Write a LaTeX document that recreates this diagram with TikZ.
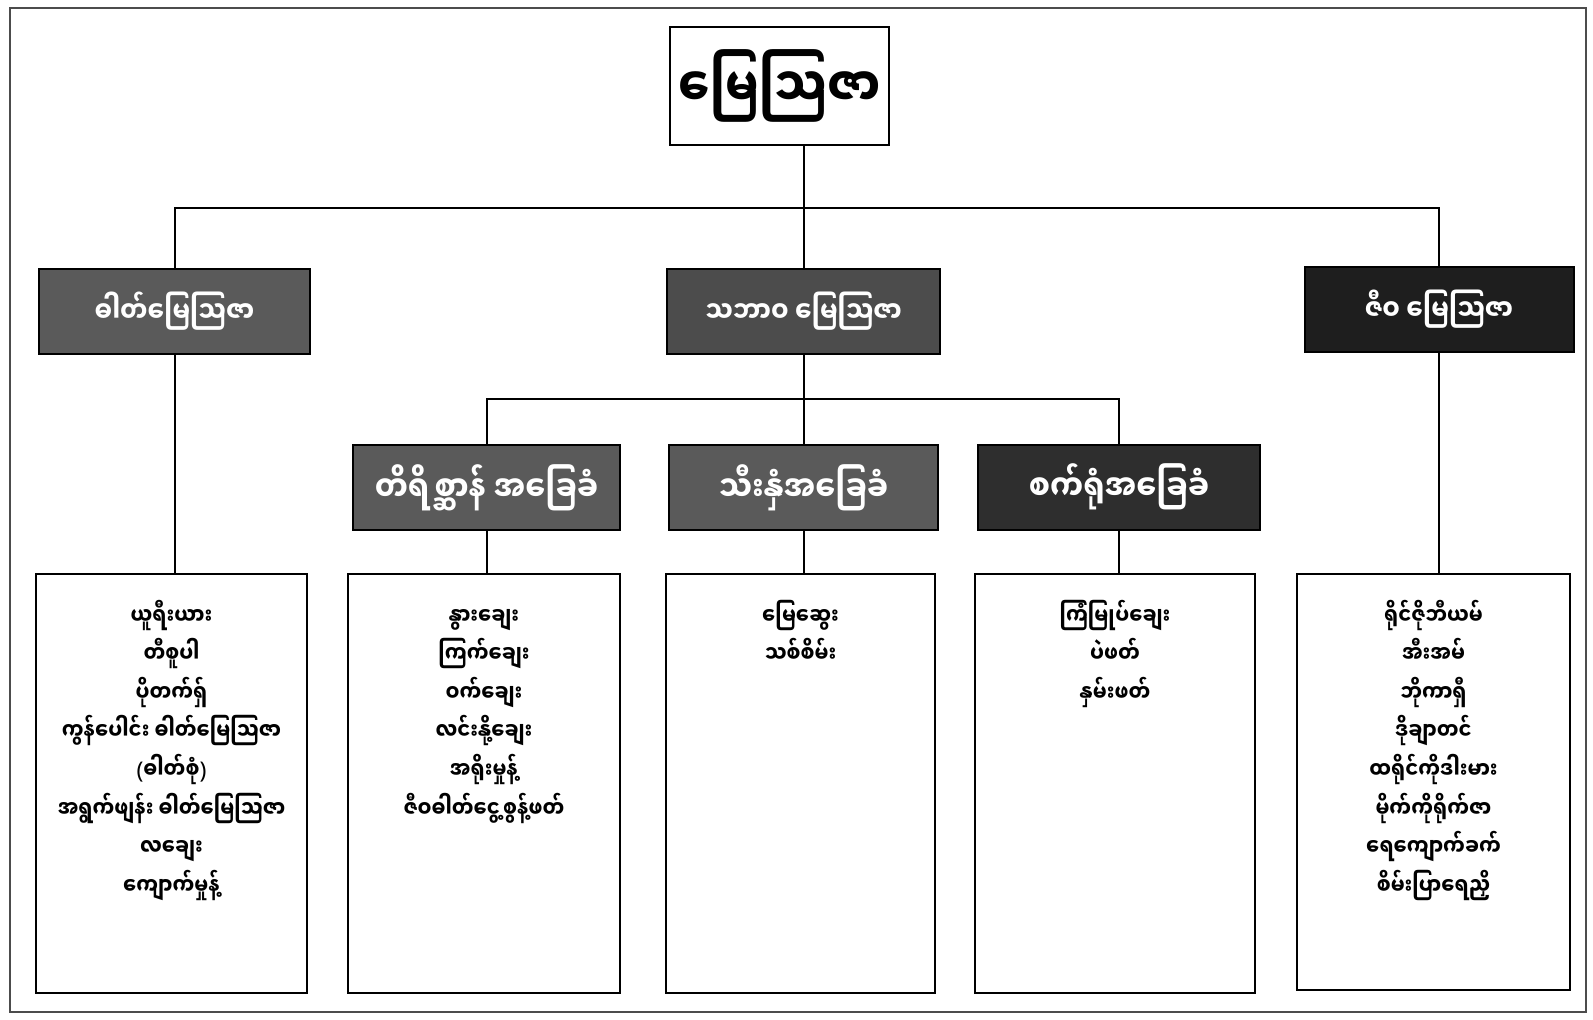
\documentclass[tikz,border=0pt]{standalone}
\usepackage{fontspec}
\newfontfamily\mm[Script=Myanmar,FakeStretch=0.85]{Noto Sans Myanmar UI}
\newfontfamily\lat{Noto Sans}
\usetikzlibrary{positioning}
\definecolor{headA}{HTML}{5A5A5A}
\definecolor{headB}{HTML}{4C4C4C}
\definecolor{headC}{HTML}{1E1E1E}
\definecolor{subC}{HTML}{2E2E2E}
\newcommand{\firstline}{\rule{0pt}{28pt}}

\begin{document}
\begin{tikzpicture}[x=1pt,y=-1pt,line width=2pt,
    head/.style={draw,fill=#1,text=white,minimum height=85pt,inner sep=0pt,
      font=\mm\bfseries\fontsize{29}{32}\selectfont},
    subhead/.style={head=#1,font=\mm\bfseries\fontsize{35}{38}\selectfont},
    listbox/.style={draw,fill=white,minimum height=419pt,inner sep=0pt},
    listtext/.style={anchor=north,align=center,inner sep=0pt,
      font=\mm\bfseries\fontsize{23}{38.6}\selectfont}]
  \useasboundingbox (0,0) rectangle (1593,1020);
  \draw[line width=1.2pt,black!70] (10,8) rectangle (1586,1012);
  % top
  \node (title) [draw,minimum width=219pt,minimum height=118pt,inner sep=0pt,
    font=\mm\bfseries\fontsize{55}{60}\selectfont] at (779.5,86) {မြေသြဇာ};
  \node (hdA) [head=headA,minimum width=271pt] at (174.5,311.5) {ဓါတ်မြေသြဇာ};
  \node (hdB) [head=headB,minimum width=273pt] at (803.5,311.5) {သဘာဝ မြေသြဇာ};
  \node (hdC) [head=headC,minimum width=269pt] at (1439,309) {ဇီဝ မြေသြဇာ};
  \coordinate (bar) at (803.5,208);
  % second level
  \node (sbA) [subhead=headA,minimum width=267pt] at (486.5,487.5) {တိရိစ္ဆာန် အခြေခံ};
  \node (sbB) [subhead=headA,minimum width=269pt] at (803.5,487.5) {သီးနှံအခြေခံ};
  \node (sbC) [subhead=subC,minimum width=282pt] at (1119,487) {စက်ရုံအခြေခံ};
  \coordinate (subbar) at (803.5,399);
  % lists
  \node (bxA) [listbox,minimum width=271pt] at (171.5,783.5) {};
  \node (bxB) [listbox,minimum width=272pt] at (484,783.5) {};
  \node (bxC) [listbox,minimum width=269pt] at (800.5,783.5) {};
  \node (bxD) [listbox,minimum width=280pt] at (1115,783.5) {};
  \node (bxE) [listbox,minimum width=273pt,minimum height=416pt] at (1433.5,782) {};
  \node (tA) [listtext,below=22pt of bxA.north] {\firstline ယူရီးယား\\တီစူပါ\\ပိုတက်ရှ်\\ကွန်ပေါင်း ဓါတ်မြေသြဇာ\\{\lat(}ဓါတ်စုံ{\lat)}\\အရွက်ဖျန်း ဓါတ်မြေသြဇာ\\လချေး\\ကျောက်မှုန့်};
  \node (tB) [listtext,below=22pt of bxB.north] {\firstline နွားချေး\\ကြက်ချေး\\ဝက်ချေး\\လင်းနို့ချေး\\အရိုးမှုန့်\\ဇီဝဓါတ်ငွေ့စွန့်ဖတ်};
  \node (tC) [listtext,below=22pt of bxC.north] {\firstline မြေဆွေး\\သစ်စိမ်း};
  \node (tD) [listtext,below=22pt of bxD.north] {\firstline ကြံမြုပ်ချေး\\ပဲဖတ်\\နှမ်းဖတ်};
  \node (tE) [listtext,below=22pt of bxE.north] {\firstline ရိုင်ဇိုဘီယမ်\\အီးအမ်\\ဘိုကာရှီ\\ဒိုချာတင်\\ထရိုင်ကိုဒါးမား\\မိုက်ကိုရိုက်ဇာ\\ရေကျောက်ခက်\\စိမ်းပြာရေညှိ};
  % connectors
  \draw (title.south -| hdB.north) -- (hdB.north);
  \draw (hdA.north) |- (bar) -| (hdC.north);
  \draw (hdB.south) -- (sbB.north);
  \draw (sbA.north) |- (subbar) -| (sbC.north);
  \draw (hdA.south) -- (hdA.south |- bxA.north);
  \draw (sbA.south) -- (sbA.south |- bxB.north);
  \draw (sbB.south) -- (sbB.south |- bxC.north);
  \draw (sbC.south) -- (sbC.south |- bxD.north);
  \draw (hdC.south) -- (hdC.south |- bxE.north);
\end{tikzpicture}
\end{document}
